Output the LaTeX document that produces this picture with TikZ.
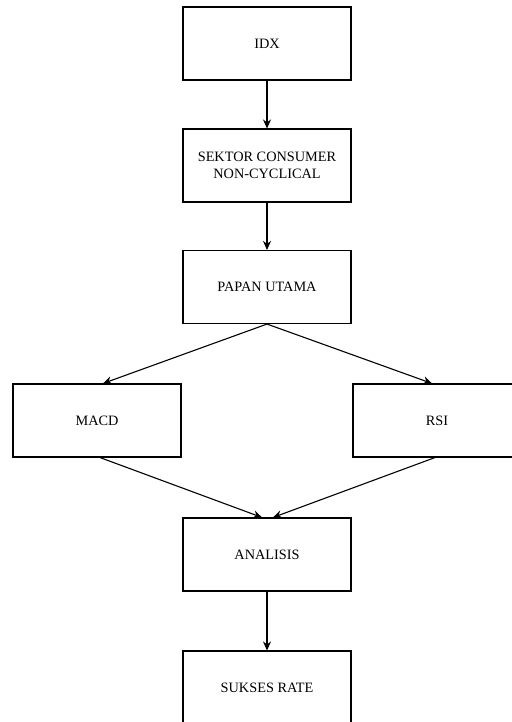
\documentclass[tikz,border=0pt]{standalone}
\usepackage{fontspec}
\setmainfont{Liberation Serif}
\usetikzlibrary{arrows.meta}
\usetikzlibrary{positioning}
\tikzset{
stage/.style = { rectangle, draw = black, fill = white, minimum width = 168pt, minimum height = 73pt, align = center, line width = 1.1pt, font = \fontsize{14.3}{17}\selectfont },
}

\begin{document}
\begin{tikzpicture}[x=1pt, y=-1pt]
      \useasboundingbox (0,0) rectangle (511,722);
      \begin{scope}[every node/.style={stage}]
        \node (idx) at (267,43.5) {IDX};
        \node (sektor) at (267,165.5) {SEKTOR CONSUMER\\NON-CYCLICAL};
        \node (papan) at (267,287) {PAPAN UTAMA};
        \node (macd) at (97,420.5) {MACD};
        \node (rsi) at (437,420.5) {RSI};
        \node (analisis) at (267,554.5) {ANALISIS};
        \node (sukses) at (267,687.5) {SUKSES RATE};
      \end{scope}
      \begin{scope}[>={Stealth[black, length=9pt, width=8pt]},
                    every edge/.style={draw=black, line width=1.1pt}]
        \path [->] (idx) edge (sektor);
        \path [->] (sektor) edge (papan);
        \path [->] (papan.south) edge ([xshift=6pt]macd.north);
        \path [->] (papan.south) edge ([xshift=-5pt]rsi.north);
        \path [->] ([xshift=3pt]macd.south) edge ([xshift=-5pt]analisis.north);
        \path [->] ([xshift=-2pt]rsi.south) edge ([xshift=6pt]analisis.north);
        \path [->] (analisis) edge (sukses);
      \end{scope}
\end{tikzpicture}
\end{document}
